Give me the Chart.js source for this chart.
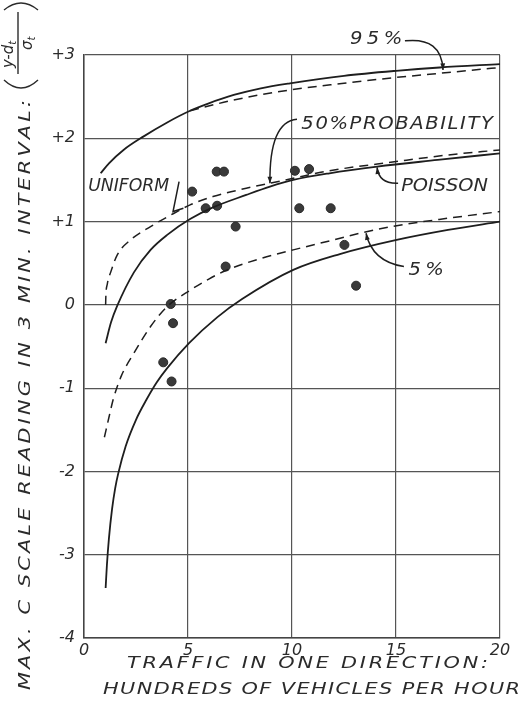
<!DOCTYPE html>
<html><head><meta charset="utf-8">
<script src="https://cdn.jsdelivr.net/npm/chart.js@4/dist/chart.umd.min.js"></script>
<style>html,body{margin:0;padding:0;background:#fff}#wrap{width:527px;height:701px}</style>
</head><body><div id="wrap"><canvas id="c" width="527" height="701"></canvas></div>
<script>
// ---- data ----
const xTickValues = [0, 5, 10, 15, 20];
const xTickLabels = ['0', '5', '10', '15', '20'];
const yTickValues = [3, 2, 1, 0, -1, -2, -3, -4];
const yTickLabels = ['+3', '+2', '+1', '0', '-1', '-2', '-3', '-4'];

// 95% probability curves
const p95SolidX  = [0.8, 1.2, 1.9, 2.85, 4.0, 5.1, 6.0, 7.2, 8.5, 9.9, 12.5, 15.0, 17.1, 20];
const p95SolidY  = [1.58, 1.70, 1.86, 2.02, 2.19, 2.33, 2.42, 2.52, 2.60, 2.66, 2.75, 2.81, 2.85, 2.89];
const p95DashX   = [5.1, 7.2, 9.9, 12.5, 15.0, 17.5, 20];
const p95DashY   = [2.33, 2.46, 2.58, 2.66, 2.73, 2.79, 2.85];
// 50% probability curves (solid = Poisson, dashed = Uniform)
const p50SolidX  = [1.04, 1.3, 1.6, 2.4, 3.2, 4.0, 5.1, 6.2, 7.8, 8.94, 10.06, 11.8, 14.1, 17.0, 20];
const p50SolidY  = [-0.46, -0.21, -0.01, 0.39, 0.66, 0.84, 1.03, 1.17, 1.32, 1.42, 1.50, 1.58, 1.66, 1.74, 1.82];
const p50DashX   = [1.04, 1.05, 1.12, 1.28, 1.6, 2.24, 3.2, 4.33, 5.1, 6.2, 7.8, 8.94, 10.06, 11.8, 15.0, 17.5, 20];
const p50DashY   = [0.0, 0.10, 0.25, 0.39, 0.60, 0.78, 0.94, 1.10, 1.20, 1.30, 1.40, 1.46, 1.52, 1.61, 1.72, 1.80, 1.86];
// 5% probability curves
const p5SolidX   = [1.04, 1.1, 1.2, 1.35, 1.5, 1.65, 2.0, 2.5, 3.0, 3.5, 4.0, 5.05, 6.4, 7.6, 10.06, 12.3, 15.03, 17.5, 20];
const p5SolidY   = [-3.40, -3.13, -2.80, -2.45, -2.20, -2.02, -1.70, -1.38, -1.14, -0.93, -0.76, -0.46, -0.15, 0.07, 0.42, 0.61, 0.78, 0.90, 1.0];
const p5DashX    = [0.98, 1.2, 1.41, 1.8, 2.4, 3.2, 4.0, 5.13, 6.0, 6.8, 8.4, 10.06, 12.0, 13.43, 15.03, 17.5, 20];
const p5DashY    = [-1.59, -1.35, -1.13, -0.85, -0.58, -0.26, -0.02, 0.18, 0.31, 0.41, 0.55, 0.66, 0.78, 0.87, 0.95, 1.04, 1.12];

// observed readings
const obsX = [5.2, 5.85, 6.38, 6.4, 6.73, 7.29, 6.81, 4.17, 4.28, 3.81, 4.21, 10.14, 10.82, 10.35, 11.86, 12.52, 13.08];
const obsY = [1.36, 1.16, 1.60, 1.19, 1.60, 0.94, 0.46, 0.01, -0.22, -0.69, -0.92, 1.61, 1.63, 1.16, 1.16, 0.72, 0.23];

const yTitle = 'MAX. C SCALE READING IN 3 MIN. INTERVAL:';
const xTitle1 = 'TRAFFIC IN ONE DIRECTION:';
const xTitle2 = 'HUNDREDS OF VEHICLES PER HOUR';

// ---- helpers ----
const zip = (xs, ys) => xs.map((x, i) => ({x, y: ys[i]}));
const INK = '#1e1e1e';
const TXT = '#2b2b2b';

function drawSpaced(ctx, text, x0, x1, y, stretch) {
  const chars = [...text];
  const widths = chars.map(c => ctx.measureText(c).width);
  const total = widths.reduce((a, b) => a + b, 0);
  let sx = stretch || 1;
  if (total * sx > (x1 - x0)) sx = (x1 - x0) / total;
  const gap = chars.length > 1 ? (x1 - x0 - total * sx) / (chars.length - 1) : 0;
  let x = x0;
  ctx.textAlign = 'left';
  chars.forEach((c, i) => {
    ctx.save(); ctx.translate(x, y); ctx.scale(sx, 1); ctx.fillText(c, 0, 0); ctx.restore();
    x += widths[i] * sx + gap;
  });
}

function arrow(ctx, p0, c, p1) {
  ctx.beginPath();
  ctx.moveTo(p0[0], p0[1]);
  ctx.quadraticCurveTo(c[0], c[1], p1[0], p1[1]);
  ctx.stroke();
  const a = Math.atan2(p1[1] - c[1], p1[0] - c[0]);
  const L = 7, W = 0.35;
  ctx.beginPath();
  ctx.moveTo(p1[0], p1[1]);
  ctx.lineTo(p1[0] - L * Math.cos(a - W), p1[1] - L * Math.sin(a - W));
  ctx.lineTo(p1[0] - L * Math.cos(a + W), p1[1] - L * Math.sin(a + W));
  ctx.closePath();
  ctx.fill();
}

const bgPlugin = {
  id: 'bg',
  beforeDraw(chart) {
    const ctx = chart.ctx;
    ctx.save(); ctx.fillStyle = '#fff'; ctx.fillRect(0, 0, chart.width, chart.height); ctx.restore();
  }
};

const annotPlugin = {
  id: 'annot',
  afterDatasetsDraw(chart) {
    const ctx = chart.ctx, sx = chart.scales.x, sy = chart.scales.y;
    const P = (x, y) => [sx.getPixelForValue(x), sy.getPixelForValue(y)];
    ctx.save();
    ctx.fillStyle = TXT; ctx.strokeStyle = INK; ctx.lineWidth = 1.5;
    ctx.font = 'italic 17px "DejaVu Sans", sans-serif';
    ctx.textBaseline = 'middle';
    const label = (t, xa, xb, y) => { const a = P(xa, y), b = P(xb, y); drawSpaced(ctx, t, a[0], b[0], a[1], 1.15); };
    label('95%', 12.79, 15.30, 3.18);
    label('50%PROBABILITY', 10.45, 19.66, 2.16);
    label('UNIFORM', 0.2, 4.1, 1.42);
    label('POISSON', 15.25, 19.42, 1.42);
    label('5%', 15.6, 17.3, 0.41);
    ctx.fillStyle = INK;
    arrow(ctx, P(15.43, 3.17), P(17.2, 3.22), P(17.26, 2.82));
    arrow(ctx, P(10.24, 2.23), P(8.9, 2.2), P(8.94, 1.46));
    arrow(ctx, P(15.1, 1.46), P(14.18, 1.45), P(14.09, 1.65));
    arrow(ctx, P(15.38, 0.46), P(13.85, 0.52), P(13.56, 0.86));
    // uniform pointer
    const u0 = P(4.57, 1.48), u1 = P(4.28, 1.12), u2 = P(4.78, 1.16);
    ctx.beginPath(); ctx.moveTo(u0[0], u0[1]); ctx.lineTo(u1[0], u1[1]); ctx.lineTo(u2[0], u2[1]); ctx.stroke();
    ctx.restore();
  },
  afterDraw(chart) {
    const ctx = chart.ctx;
    ctx.save();
    ctx.fillStyle = TXT; ctx.strokeStyle = TXT;
    ctx.textBaseline = 'middle';
    ctx.font = 'italic 16px "DejaVu Sans", sans-serif';
    // x title
    drawSpaced(ctx, xTitle1, 127, 488, 664, 1.3);
    drawSpaced(ctx, xTitle2, 103, 520, 690, 1.3);
    // y title (rotated)
    ctx.translate(26, 690);
    ctx.rotate(-Math.PI / 2);
    drawSpaced(ctx, yTitle, 0, 590, 0, 1.3);
    ctx.lineWidth = 1.4;
    // parentheses
    ctx.beginPath(); ctx.moveTo(610, -22); ctx.quadraticCurveTo(594, -5, 610, 12); ctx.stroke();
    ctx.beginPath(); ctx.moveTo(680, -22); ctx.quadraticCurveTo(694, -5, 680, 12); ctx.stroke();
    // fraction bar
    ctx.beginPath(); ctx.moveTo(616, -8); ctx.lineTo(678, -8); ctx.stroke();
    // numerator y-d_t
    ctx.font = 'italic 15px "DejaVu Sans", sans-serif';
    ctx.textAlign = 'left';
    ctx.fillText('y-d', 622, -17);
    const wn = ctx.measureText('y-d').width;
    ctx.font = 'italic 10px "DejaVu Sans", sans-serif';
    ctx.fillText('t', 622 + wn, -13);
    // denominator sigma_t
    ctx.font = 'italic 15px "DejaVu Sans", sans-serif';
    ctx.fillText('σ', 640, 2);
    const wd = ctx.measureText('σ').width;
    ctx.font = 'italic 10px "DejaVu Sans", sans-serif';
    ctx.fillText('t', 640 + wd, 6);
    ctx.restore();
  }
};

const lineDs = (xs, ys, dashed) => ({
  type: 'line',
  data: zip(xs, ys),
  borderColor: INK,
  borderWidth: dashed ? 1.5 : 1.8,
  borderDash: dashed ? [9, 6] : [],
  pointRadius: 0,
  fill: false,
  cubicInterpolationMode: 'monotone'
});

new Chart(document.getElementById('c'), {
  type: 'scatter',
  data: {
    datasets: [
      lineDs(p95SolidX, p95SolidY, false),
      lineDs(p95DashX, p95DashY, true),
      lineDs(p50SolidX, p50SolidY, false),
      lineDs(p50DashX, p50DashY, true),
      lineDs(p5SolidX, p5SolidY, false),
      lineDs(p5DashX, p5DashY, true),
      {
        type: 'scatter',
        data: zip(obsX, obsY),
        pointRadius: 4.5,
        pointBackgroundColor: '#3a3a3a',
        pointBorderColor: '#2a2a2a',
        pointBorderWidth: 1,
        showLine: false
      }
    ]
  },
  options: {
    responsive: false,
    animation: false,
    events: [],
    layout: { padding: { top: 55, right: 27, left: 0, bottom: 0 } },
    plugins: { legend: { display: false }, tooltip: { enabled: false } },
    scales: {
      x: {
        type: 'linear', min: 0, max: 20,
        afterFit(s) { s.height = 63; },
        afterBuildTicks(s) { s.ticks = xTickValues.map(v => ({value: v})); },
        ticks: {
          padding: 3, color: TXT, font: { family: '"DejaVu Sans", sans-serif', style: 'italic', size: 16 },
          callback: v => xTickLabels[xTickValues.indexOf(v)] ?? ''
        },
        grid: { color: '#555', lineWidth: 1.2, drawTicks: false },
        border: { color: '#444', width: 1.5 }
      },
      y: {
        type: 'linear', min: -4, max: 3,
        afterFit(s) { s.width = 84; },
        afterBuildTicks(s) { s.ticks = yTickValues.map(v => ({value: v})); },
        ticks: {
          padding: 9, color: TXT, font: { family: '"DejaVu Sans", sans-serif', style: 'italic', size: 16 },
          callback: v => yTickLabels[yTickValues.indexOf(v)] ?? ''
        },
        grid: { color: '#555', lineWidth: 1.2, drawTicks: false },
        border: { color: '#444', width: 1.5 }
      }
    }
  },
  plugins: [bgPlugin, annotPlugin]
});
</script>
</body></html>
